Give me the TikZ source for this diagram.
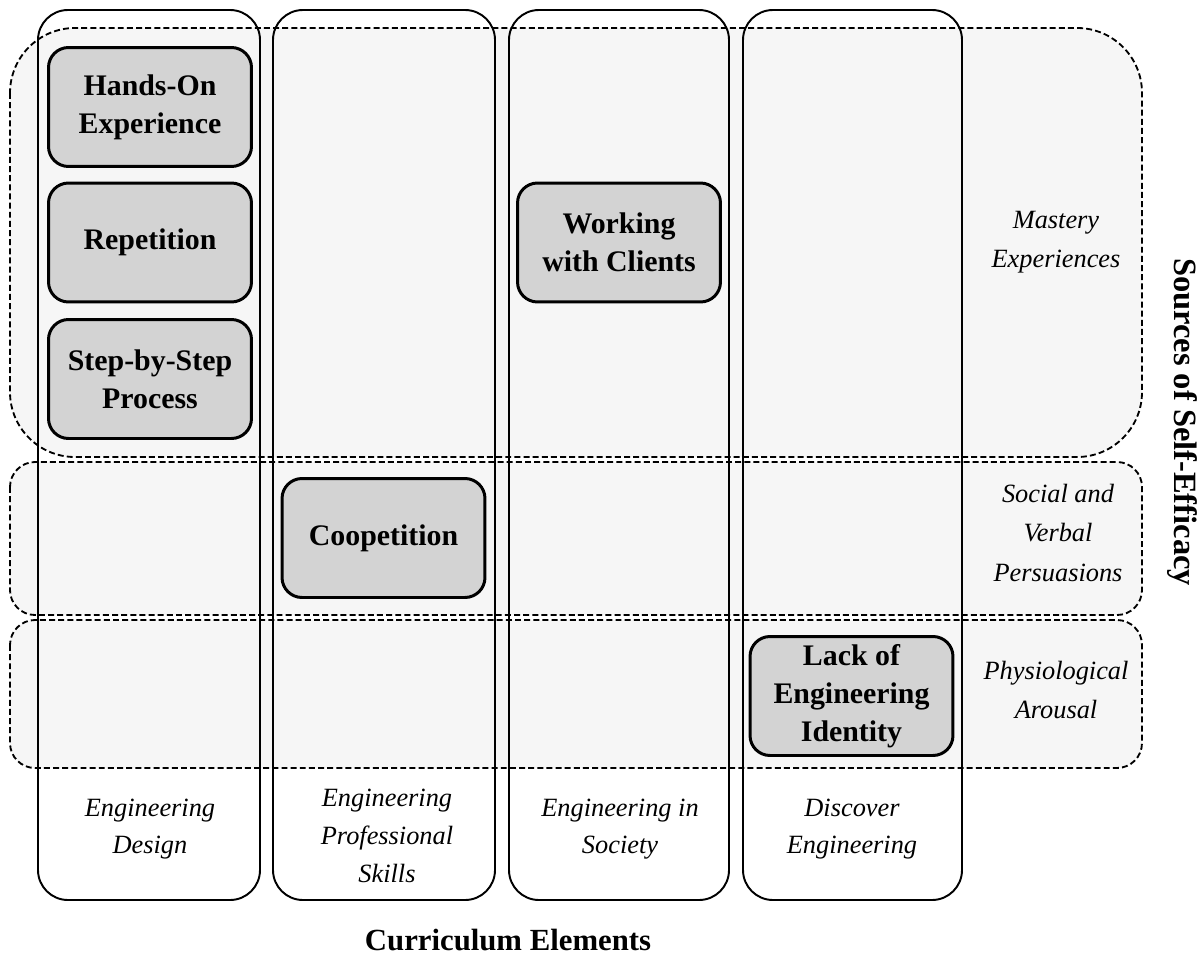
\documentclass[tikz,border=0pt]{standalone}
\usepackage{fontspec}
\setmainfont{Liberation Serif}
\begin{document}
\begin{tikzpicture}[x=0.02cm,y=-0.02cm,
  band/.style={draw=black,fill=bandgray,dashed,dash pattern=on 3.4pt off 1.8pt,line width=1.05pt},
  column/.style={draw=black,line width=1.1pt,rounded corners=0.6cm},
  item/.style={draw=black,fill=boxgray,line width=1.7pt,rounded corners=0.4cm,
    minimum width=4.06cm,minimum height=2.38cm,align=center,inner sep=0pt,
    font=\fontsize{17}{21.5}\selectfont\bfseries},
  srclabel/.style={align=center,font=\fontsize{15}{22.5}\selectfont\itshape},
  collabel/.style={align=center,font=\fontsize{15}{21.5}\selectfont\itshape},
  title/.style={font=\fontsize{17.5}{20}\selectfont\bfseries}]
\definecolor{bandgray}{HTML}{F6F6F6}
\definecolor{boxgray}{HTML}{D3D3D3}
\useasboundingbox (0,0) rectangle (1200,960);
% source bands
\draw[band,rounded corners=1.3cm] (10,28) rectangle (1142,457);
\draw[band,rounded corners=0.5cm] (10,462) rectangle (1142,615);
\draw[band,rounded corners=0.5cm] (10,620) rectangle (1142,768);
% curriculum columns
\draw[column] (38,10) rectangle (260,900);
\draw[column] (273,10) rectangle (495,900);
\draw[column] (509,10) rectangle (729,900);
\draw[column] (743,10) rectangle (962,900);
% items
\node[item] (hands) at (150,107) {Hands-On\\Experience};
\node[item] (rep) at (150,242.5) {Repetition};
\node[item] (step) at (150,379) {Step-by-Step\\Process};
\node[item] (clients) at (619,242.5) {Working\\with Clients};
\node[item] (coop) at (383.5,538) {Coopetition};
\node[item] (lack) at (851.5,696) {Lack of\\Engineering\\Identity};
% source labels
\node[srclabel] (mastery) at (1056,242) {Mastery\\Experiences};
\node[srclabel] (social) at (1058,533) {Social and\\Verbal\\Persuasions};
\node[srclabel] (physio) at (1056,690) {Physiological\\Arousal};
% column labels
\node[collabel] (design) at (150,829) {Engineering\\Design};
\node[collabel] (prof) at (387,836) {Engineering\\Professional\\Skills};
\node[collabel] (society) at (620,829) {Engineering in\\Society};
\node[collabel] (discover) at (852,829) {Discover\\Engineering};
% axis titles
\node[title] (curr) at (508,940) {Curriculum Elements};
\node[title,rotate=-90,font=\fontsize{18.5}{20}\selectfont\bfseries] (sources) at (1182,422) {Sources of Self-Efficacy};
\end{tikzpicture}
\end{document}
